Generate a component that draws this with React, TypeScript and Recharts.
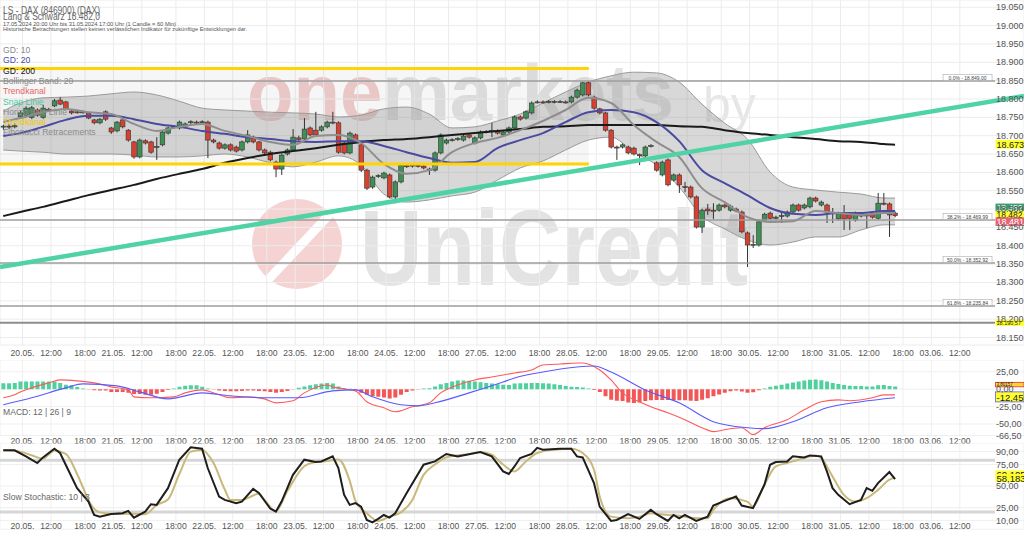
import React from 'react';
import {
  ComposedChart, Bar, Line, Area, XAxis, YAxis, CartesianGrid,
  ReferenceLine, ReferenceArea, Cell,
} from 'recharts';

const FONT = '"Liberation Sans", Arial, Helvetica, sans-serif';
const W = 1024;

// ---- time axis: hourly candles, 16 slots per trading day, index 0 = 20.05. first hour
const dayLabels = ['20.05.', '21.05.', '22.05.', '23.05.', '24.05.', '27.05.', '28.05.', '29.05.', '30.05.', '31.05.', '03.06.'];
const hourLabels = ['12:00', '18:00'];
const firstCandle = -3; // 17.05. 20:00
const X_MIN = -3.57;
const X_MAX = 176.7;

// ---- candles (LS DAX, 60 min)
const candleOpen = [18724, 18726, 18724, 18751, 18756, 18750, 18770, 18750, 18772, 18781, 18797, 18792, 18767, 18765, 18764, 18762, 18743, 18735, 18765, 18721, 18713, 18743, 18715, 18683, 18642, 18686, 18683, 18668, 18675, 18707, 18723, 18721, 18726, 18736, 18737, 18736, 18737, 18688, 18680, 18666, 18675, 18669, 18661, 18683, 18696, 18683, 18661, 18655, 18628, 18609, 18650, 18661, 18694, 18691, 18721, 18715, 18715, 18724, 18737, 18735, 18680, 18653, 18702, 18675, 18606, 18560, 18589, 18585, 18593, 18533, 18574, 18618, 18617, 18619, 18617, 18609, 18606, 18653, 18680, 18688, 18690, 18688, 18702, 18680, 18694, 18710, 18712, 18713, 18702, 18710, 18721, 18751, 18748, 18762, 18791, 18792, 18791, 18793, 18792, 18792, 18792, 18805, 18811, 18844, 18805, 18773, 18762, 18715, 18669, 18669, 18669, 18666, 18648, 18645, 18672, 18626, 18593, 18634, 18579, 18593, 18561, 18560, 18533, 18451, 18500, 18497, 18497, 18511, 18497, 18500, 18492, 18435, 18402, 18402, 18470, 18489, 18475, 18481, 18481, 18492, 18511, 18503, 18506, 18530, 18511, 18511, 18490, 18473, 18489, 18484, 18470, 18484, 18484, 18489, 18475, 18516, 18514, 18489];
const candleHigh = [18730, 18732, 18733, 18767, 18780, 18781, 18774, 18784, 18776, 18800, 18805, 18795, 18770, 18769, 18769, 18765, 18746, 18748, 18769, 18724, 18740, 18746, 18718, 18686, 18692, 18690, 18686, 18696, 18714, 18725, 18729, 18741, 18736, 18742, 18741, 18742, 18741, 18692, 18684, 18679, 18679, 18673, 18687, 18715, 18700, 18686, 18665, 18659, 18632, 18651, 18665, 18718, 18700, 18748, 18725, 18765, 18728, 18741, 18765, 18739, 18684, 18711, 18706, 18679, 18610, 18591, 18595, 18602, 18597, 18578, 18624, 18621, 18624, 18622, 18621, 18613, 18657, 18706, 18692, 18693, 18696, 18703, 18706, 18698, 18714, 18715, 18735, 18717, 18714, 18725, 18755, 18755, 18769, 18793, 18796, 18796, 18797, 18797, 18797, 18796, 18809, 18828, 18847, 18849, 18809, 18776, 18765, 18718, 18673, 18679, 18673, 18670, 18651, 18673, 18677, 18630, 18632, 18638, 18597, 18597, 18574, 18564, 18537, 18501, 18514, 18516, 18515, 18515, 18512, 18504, 18496, 18439, 18429, 18469, 18490, 18493, 18482, 18492, 18496, 18515, 18515, 18515, 18534, 18534, 18523, 18515, 18503, 18493, 18511, 18488, 18493, 18488, 18488, 18493, 18544, 18544, 18518, 18493];
const candleLow = [18716, 18718, 18720, 18746, 18752, 18745, 18752, 18746, 18765, 18778, 18783, 18770, 18758, 18760, 18760, 18745, 18731, 18731, 18740, 18705, 18709, 18720, 18684, 18637, 18638, 18676, 18651, 18634, 18671, 18703, 18719, 18717, 18722, 18732, 18732, 18733, 18639, 18679, 18662, 18662, 18657, 18654, 18657, 18679, 18679, 18657, 18649, 18630, 18587, 18593, 18646, 18657, 18686, 18687, 18698, 18698, 18711, 18720, 18731, 18651, 18649, 18649, 18684, 18601, 18552, 18555, 18585, 18581, 18529, 18516, 18570, 18612, 18613, 18613, 18608, 18593, 18602, 18649, 18676, 18684, 18686, 18684, 18692, 18676, 18690, 18706, 18696, 18703, 18698, 18706, 18717, 18741, 18744, 18758, 18788, 18787, 18788, 18788, 18789, 18787, 18788, 18801, 18807, 18807, 18771, 18758, 18711, 18665, 18634, 18665, 18649, 18646, 18620, 18641, 18668, 18602, 18589, 18562, 18575, 18544, 18546, 18529, 18447, 18435, 18484, 18473, 18493, 18502, 18493, 18491, 18434, 18342, 18394, 18398, 18466, 18471, 18471, 18462, 18477, 18488, 18493, 18499, 18502, 18518, 18507, 18462, 18462, 18469, 18443, 18443, 18466, 18477, 18448, 18474, 18471, 18510, 18424, 18478];
const candleClose = [18726, 18724, 18727, 18762, 18775, 18776, 18756, 18775, 18769, 18795, 18786, 18773, 18762, 18764, 18765, 18748, 18735, 18745, 18745, 18710, 18737, 18724, 18688, 18642, 18688, 18680, 18655, 18671, 18710, 18721, 18725, 18737, 18732, 18738, 18736, 18738, 18688, 18683, 18666, 18675, 18661, 18658, 18683, 18702, 18683, 18661, 18653, 18634, 18609, 18647, 18661, 18696, 18690, 18718, 18702, 18702, 18724, 18737, 18735, 18655, 18653, 18707, 18688, 18606, 18557, 18587, 18591, 18598, 18533, 18574, 18620, 18616, 18620, 18617, 18612, 18606, 18653, 18702, 18688, 18689, 18692, 18699, 18696, 18694, 18710, 18711, 18714, 18707, 18710, 18721, 18751, 18745, 18765, 18789, 18792, 18791, 18793, 18792, 18793, 18791, 18805, 18824, 18844, 18811, 18775, 18762, 18715, 18669, 18668, 18675, 18653, 18650, 18646, 18669, 18673, 18606, 18628, 18566, 18593, 18566, 18559, 18533, 18451, 18497, 18495, 18496, 18511, 18506, 18508, 18495, 18438, 18402, 18404, 18465, 18486, 18475, 18478, 18482, 18492, 18511, 18497, 18511, 18530, 18522, 18519, 18492, 18488, 18489, 18473, 18475, 18489, 18481, 18483, 18478, 18516, 18514, 18484, 18482];

// ---- moving averages / Bollinger (read every 4 candles)
const maK = [-3, 0, 4, 8, 12, 16, 20, 24, 28, 32, 36, 40, 44, 48, 52, 56, 60, 64, 68, 72, 76, 80, 84, 88, 92, 96, 100, 104, 108, 112, 116, 120, 124, 128, 132, 136, 140, 144, 148, 152, 154];
const bbUpper = [18767, 18789, 18803, 18805, 18808, 18814, 18819, 18811, 18794, 18775, 18770, 18767, 18764, 18762, 18759, 18751, 18756, 18773, 18778, 18759, 18721, 18724, 18740, 18759, 18789, 18819, 18846, 18863, 18873, 18871, 18846, 18786, 18734, 18691, 18601, 18560, 18552, 18546, 18541, 18530, 18530];
const bbLower = [18661, 18658, 18655, 18650, 18650, 18650, 18647, 18642, 18642, 18645, 18650, 18642, 18626, 18615, 18628, 18645, 18620, 18541, 18519, 18525, 18536, 18546, 18579, 18612, 18631, 18661, 18688, 18696, 18655, 18620, 18560, 18481, 18446, 18416, 18402, 18410, 18424, 18424, 18443, 18457, 18457];
const gd10 = [18737, 18748, 18764, 18773, 18764, 18759, 18732, 18713, 18724, 18732, 18713, 18699, 18683, 18675, 18699, 18702, 18680, 18623, 18596, 18606, 18655, 18680, 18694, 18715, 18740, 18770, 18803, 18789, 18729, 18683, 18642, 18557, 18519, 18478, 18465, 18467, 18495, 18489, 18484, 18489, 18489];
const gd20 = [18699, 18707, 18724, 18743, 18754, 18754, 18745, 18732, 18724, 18713, 18705, 18696, 18691, 18685, 18683, 18685, 18685, 18672, 18655, 18639, 18626, 18628, 18666, 18688, 18707, 18737, 18764, 18770, 18764, 18737, 18685, 18606, 18571, 18538, 18503, 18487, 18484, 18489, 18489, 18495, 18495];
const gd200 = [18481, 18492, 18506, 18522, 18538, 18552, 18566, 18582, 18596, 18609, 18626, 18639, 18650, 18658, 18666, 18675, 18683, 18688, 18691, 18696, 18702, 18707, 18713, 18718, 18724, 18726, 18729, 18729, 18729, 18729, 18726, 18724, 18715, 18707, 18702, 18696, 18691, 18685, 18683, 18677, 18675];

// ---- drawings
const channelHigh = 18883;
const channelLow = 18623;
const channelEnd = 100.1;
const snapLine = [{ k: X_MIN, p: 18342 }, { k: X_MAX, p: 18808 }];
const fibLevels = [18849.0, 18469.99, 18352.92, 18235.84];
const fibNames = ['0.0%', '38.2%', '50.0%', '61.8%'];
const hLineLevel = 18190.57;
const lineEnd = 171.6;

const priceTicks = [18150, 18200, 18250, 18300, 18350, 18400, 18450, 18500, 18550, 18600, 18650, 18700, 18750, 18800, 18850, 18900, 18950, 19000, 19050];

// ---- MACD 12 | 26 | 9
const macdHist = [8.6, 8.6, 9, 10.9, 10.9, 10.9, 10.9, 10.9, 10.9, 10.5, 9, 6.5, 5.5, 3, 1, -0.5, -1.5, -2, -2, -4, -4, -4, -5, -7, -7, -8, -8, -6.5, -4, -1, 1, 3.5, 5, 5.5, 5.5, 3.5, 1, -0.5, -2, -2.5, -3, -3, -2.5, -2, -2, -2.5, -3, -4, -5, -4, -2.5, -0.5, 2, 4, 5.5, 7, 8, 9, 8, 4, 1.5, 0.5, -1, -5, -8, -10, -11, -12, -13.5, -12, -8, -4, -2, -0.5, 1, 1.5, 4, 7, 9, 11, 12.5, 12.5, 12, 11, 10, 9, 8, 7, 6.5, 6, 8, 8.5, 8.6, 8.8, 9, 8.5, 8, 7, 6, 4.5, 3.5, 3, 2.5, 1, -1, -4, -10, -15, -16.5, -17, -19, -20, -19, -17, -16, -15.5, -15.5, -15.5, -15.5, -16, -16, -16.5, -17, -15, -13, -10, -7.5, -5, -3, -2, -3.5, -5, -4.5, -1.5, 1, 3.5, 5, 6.5, 8, 9.5, 11, 12.5, 13.5, 14, 13, 11, 9, 7.5, 6, 5, 4.5, 4.5, 4, 4, 5.5, 6, 4.5, 3.8];
const macdK = [-3, -1, 0, 2, 5, 7, 10, 13, 16, 19, 20, 23, 27, 29, 32, 35, 37, 40, 43, 45, 48, 50, 54, 55, 57, 59, 61, 64, 66, 69, 72, 74, 77, 80, 83, 87, 90, 92, 95, 98, 99, 102, 104, 106, 109, 111, 114, 117, 120, 122, 125, 127, 129, 131, 135, 138, 141, 144, 146, 150, 152, 154];
const macdV = [-12.4, -8.1, -3.9, 1.9, 9, 13.3, 11.9, 9, 3.3, -1, -11, -12.4, -11, -5.3, -1, -8.1, -12.4, -11, -13.9, -19.6, -16.7, -5.3, 6.1, 3.3, 0.4, -2.4, -18.1, -26.7, -32.4, -25.3, -19.6, -5.3, 6.1, 13.3, 17.6, 23.3, 27.6, 34.7, 36.1, 37.6, 37.6, 27.6, 13.3, -5.3, -18.1, -25.3, -33.9, -43.9, -55.3, -61, -56.7, -55.3, -65.3, -55.3, -43.9, -29.6, -18.1, -15.3, -16.7, -12.4, -8.1, -8.1];
const signalK = [-3, 2, 8, 11, 17, 21, 26, 32, 37, 43, 49, 55, 59, 62, 67, 70, 73, 79, 85, 87, 92, 98, 101, 104, 110, 116, 122, 128, 131, 136, 142, 148, 154];
const signalV = [-22.4, -12.4, 1.9, 7.6, 4.7, -3.9, -13.9, -5.3, -9.6, -12.4, -12.4, -2.4, -1, -11, -22.4, -23.9, -19.6, -5.3, 10.4, 16.1, 24.7, 31.9, 33.3, 24.7, -1, -19.6, -46.7, -55.3, -56.7, -46.7, -26.7, -18.1, -12.4];
const macdTicks = [-66.5, -50, -25, 0, 25];

// ---- Slow Stochastic 10 | 3
const stochK = [-3, -1, 1, 3, 4, 6, 7, 8, 10, 12, 13, 14, 16, 18, 19, 20, 22, 23, 24, 26, 28, 30, 32, 33, 35, 36, 38, 39, 41, 42, 43, 44, 45, 46, 48, 50, 52, 53, 55, 56, 57, 58, 59, 60, 61, 62, 63, 64, 65, 66, 67, 68, 71, 73, 75, 77, 81, 83, 85, 86, 87, 88, 90, 91, 92, 95, 97, 98, 99, 101, 102, 104, 105, 107, 109, 111, 112, 114, 115, 116, 117, 119, 121, 122, 124, 126, 127, 129, 131, 132, 133, 135, 136, 138, 139, 141, 142, 143, 144, 146, 148, 149, 150, 151, 153, 154];
const stochKV = [91.5, 91.5, 84.5, 76.8, 83.3, 93.4, 88.4, 74.8, 47.6, 32, 16.5, 14.6, 17.7, 18.5, 21.2, 13.4, 20.4, 29, 28.2, 47.6, 80.6, 95, 93.4, 71, 37.9, 34, 30.2, 32, 46.8, 42, 33, 24, 20.4, 32, 63.1, 80.6, 77.9, 78.6, 84.5, 71, 40, 28.2, 30.2, 26.2, 10.7, 8, 12, 16.5, 13.4, 18.5, 30, 41.8, 74.8, 78.6, 87.3, 84.5, 89.6, 84.5, 67, 64, 72.8, 82.6, 87.3, 94.3, 92.3, 93.4, 93.4, 84.5, 83.3, 53.5, 26.2, 9.6, 10.7, 17.4, 11.9, 22.4, 17.4, 9.6, 16.5, 12.7, 16.5, 9.6, 14.6, 27.4, 32.9, 37.9, 27.4, 24.4, 51.5, 74.8, 77.9, 78.6, 84.5, 83.3, 85.6, 84.5, 67, 47.6, 39.8, 29, 34, 47.6, 44.5, 53.5, 66.3, 58.2];
const stochD = [-3, 0, 2, 4, 6, 8, 10, 11, 12, 14, 17, 20, 22, 24, 26, 28, 30, 32, 34, 36, 37, 39, 42, 43, 45, 47, 50, 52, 54, 56, 58, 59, 61, 63, 65, 67, 69, 71, 73, 75, 79, 81, 83, 85, 87, 89, 91, 94, 97, 99, 101, 102, 104, 107, 109, 111, 114, 116, 118, 121, 122, 125, 128, 129, 131, 133, 135, 138, 140, 141, 143, 145, 147, 149, 151, 153, 154];
const stochDV = [91.5, 90, 85.7, 81.9, 91, 87.3, 64, 49, 33.7, 19.5, 17.7, 17.9, 17.4, 28, 34.5, 64, 90, 92, 77, 46, 34, 34, 41, 34, 21, 44, 73, 78, 79, 81, 56, 33, 18.5, 9.6, 14.6, 19.5, 33.7, 63, 75, 83.3, 87.3, 89.6, 86.5, 75, 67, 78.6, 88.4, 92.3, 93.4, 88.4, 69, 38, 14.6, 12.7, 14.6, 18.5, 16.5, 15.6, 13.4, 12.7, 22.4, 36, 32, 26.2, 51.5, 72.8, 76.8, 82.6, 85.6, 82.6, 61, 39.8, 32, 36, 45.6, 57.4, 60.1];
const stochTicks = [10, 25, 50, 75, 90];

// ---- tables for recharts
const candleRows = candleOpen.map((o, i) => ({
  k: firstCandle + i, o, h: candleHigh[i], l: candleLow[i], c: candleClose[i],
  range: [candleLow[i], candleHigh[i]],
}));
const maRows = maK.map((k, i) => ({
  k, band: [bbLower[i], bbUpper[i]], gd10: gd10[i], gd20: gd20[i], gd200: gd200[i],
}));
const histRows = macdHist.map((h, i) => ({ k: firstCandle + i, h }));
const macdRows = macdK.map((k, i) => ({ k, v: macdV[i] }));
const signalRows = signalK.map((k, i) => ({ k, v: signalV[i] }));
const stochKRows = stochK.map((k, i) => ({ k, v: stochKV[i] }));
const stochDRows = stochD.map((k, i) => ({ k, v: stochDV[i] }));

const tickList = dayLabels.flatMap((day, d) => {
  const base = d * 16;
  const arr = [{ k: base + 0.4, label: day }, { k: base + 5.4, label: hourLabels[0] }];
  if (d < dayLabels.length - 1) arr.push({ k: base + 11.4, label: hourLabels[1] });
  return arr;
});
const tickKs = tickList.map((t) => t.k);

const fmtDe = (v: number, dec = 2) => {
  const s = Math.abs(v).toFixed(dec);
  const [i, d] = s.split('.');
  const ii = i.replace(/\B(?=(\d{3})+(?!\d))/g, '.');
  return (v < 0 ? '-' : '') + ii + (d ? ',' + d : '');
};

const DateTick = ({ x, y, payload, dyc }: any) => {
  const t = tickList.find((tt) => Math.abs(tt.k - payload.value) < 0.01);
  return (
    <text x={x} y={y + dyc} textAnchor="middle" dominantBaseline="central" fontSize={8.6} fill="#555" fontFamily={FONT}>
      {t ? t.label : ''}
    </text>
  );
};

const ValueTick = ({ y, payload }: any) => (
  <text x={996} y={y} dominantBaseline="central" fontSize={9} fill="#555" fontFamily={FONT}>
    {fmtDe(payload.value)}
  </text>
);

const GREEN = '#3f8f57';
const RED = '#d8412f';

const Candle = (props: any) => {
  const { x, y, width, height, payload } = props;
  if (!payload || height == null) return null;
  const { o, h, l, c } = payload;
  const cx = x + width / 2;
  const span = h - l;
  const toPx = (v: number) => (span > 0 ? y + ((h - v) / span) * height : y);
  const top = toPx(Math.max(o, c));
  const bot = toPx(Math.min(o, c));
  return (
    <g>
      <line x1={cx} x2={cx} y1={y} y2={y + height} stroke="#333" strokeWidth={1} />
      <rect x={cx - 2.3} y={top} width={4.6} height={Math.max(bot - top, 1)} fill={c >= o ? GREEN : RED} stroke="#333" strokeWidth={0.6} />
    </g>
  );
};

type FlagItem = { text: string; fill: string; color: string; stroke?: string; dy: number; h: number; fs: number };
// price flags sit on the right edge, anchored to the value of a zero-length segment
const flagLabel = (items: FlagItem[]) => (p: any) => {
  const vb = p.viewBox || {};
  const right = W;
  const cy = vb.y ?? 0;
  return (
    <g>
      {items.map((it, i) => (
        <g key={i}>
          <rect x={right - 28.5} y={cy + it.dy - it.h / 2} width={28.5} height={it.h} fill={it.fill} stroke={it.stroke ?? 'none'} strokeWidth={0.8} />
          <text x={right - 27.5} y={cy + it.dy + 0.3} dominantBaseline="central" fontSize={it.fs} fill={it.color} fontFamily={FONT}>{it.text}</text>
        </g>
      ))}
    </g>
  );
};

const fibLabel = (text: string) => (p: any) => {
  const vb = p.viewBox || {};
  const right = (vb.x ?? 0) + (vb.width ?? 0) - 3;
  const cy = vb.y ?? 0;
  return (
    <g>
      <rect x={right - 49} y={cy - 6.5} width={49} height={6} fill="#fff" stroke="#999" strokeWidth={0.5} />
      <text x={right - 24.5} y={cy - 3.3} textAnchor="middle" dominantBaseline="central" fontSize={5} fill="#444" fontFamily={FONT}>{text}</text>
    </g>
  );
};

const flagAt = (key: string, v: number, items: FlagItem[]) => (
  <ReferenceLine key={key} segment={[{ x: X_MAX, y: v }, { x: X_MAX, y: v }]} stroke="transparent" strokeWidth={0} ifOverflow="visible" label={flagLabel(items)} />
);

const xAxisProps = {
  type: 'number' as const,
  dataKey: 'k',
  domain: [X_MIN, X_MAX],
  allowDataOverflow: true,
  ticks: tickKs,
  interval: 0 as const,
  tickLine: false,
  axisLine: false,
  tickSize: 0,
  tickMargin: 0,
};

const lineProps = { dot: false, activeDot: false, isAnimationActive: false, legendType: 'none' as const };

const legendItems = [
  { t: 'GD: 10', c: '#8a8a8a' },
  { t: 'GD: 20', c: '#4a4aa8' },
  { t: 'GD: 200', c: '#111' },
  { t: 'Bollinger Band: 20', c: '#8a8a8a' },
  { t: 'Trendkanal', c: '#e56565' },
  { t: 'Snap Linie', c: '#45c89a' },
  { t: 'Horizontale Linie', c: '#8a8a8a' },
  { t: 'Trendkanal', c: '#f0c800' },
  { t: 'Fibonacci Retracements', c: '#8a8a8a' },
];

export default function App() {
  return (
    <div style={{ position: 'relative', width: W, height: 533, overflow: 'hidden', background: '#fff', fontFamily: FONT }}>
      <style>{'body{margin:0}'}</style>

      {/* watermark */}
      <svg width={W} height={533} style={{ position: 'absolute', left: 0, top: 0 }}>
        <text x={247} y={120} fontSize={80} fontWeight="bold" fontFamily={FONT} textLength={427} lengthAdjust="spacingAndGlyphs">
          <tspan fill="#f3cfcf">one</tspan>
          <tspan fill="#e3e3e3">markets</tspan>
        </text>
        <text x={703} y={122} fontSize={50} fill="#e6e6e6" fontFamily={FONT}>by</text>
        <circle cx={297} cy={244} r={45} fill="#f5d3d3" />
        <path d="M266 282 L330 214" stroke="#fff" strokeWidth={9} />
        <text x={360} y={285} fontSize={108} fontWeight="bold" fill="#e3e3e3" fontFamily={FONT} textLength={388} lengthAdjust="spacingAndGlyphs">UniCredit</text>
      </svg>

      {/* price panel */}
      <div style={{ position: 'absolute', left: 0, top: 0 }}>
        <ComposedChart width={W} height={362} data={candleRows} margin={{ top: 0, right: 0, bottom: 0, left: 0 }}>
          <CartesianGrid stroke="#ececec" />
          <XAxis {...xAxisProps} height={17} tick={<DateTick dyc={8} />} />
          <YAxis type="number" orientation="right" mirror domain={[18129.6, 19069.7]} allowDataOverflow ticks={priceTicks} interval={0} tick={<ValueTick />} tickLine={false} axisLine={false} width={30} />
          <ReferenceArea x1={X_MIN} x2={channelEnd} y1={channelLow} y2={channelHigh} fill="#000" fillOpacity={0.035} stroke="none" ifOverflow="visible" />
          <Area data={maRows} dataKey="band" type="monotone" stroke="#9a9a9a" strokeWidth={1} fill="#8c8c8c" fillOpacity={0.34} dot={false} activeDot={false} isAnimationActive={false} />
          {fibLevels.map((v, i) => (
            <ReferenceLine key={'f' + i} segment={[{ x: X_MIN, y: v }, { x: lineEnd, y: v }]} stroke="#9c9c9c" strokeWidth={1.5} ifOverflow="visible" label={fibLabel(`${fibNames[i]} - ${fmtDe(v)}`)} />
          ))}
          <ReferenceLine segment={[{ x: X_MIN, y: hLineLevel }, { x: lineEnd, y: hLineLevel }]} stroke="#8c8c8c" strokeWidth={2} ifOverflow="visible" />
          <Line data={maRows} dataKey="gd200" type="monotone" stroke="#1a1a1a" strokeWidth={2} {...lineProps} />
          <Line data={maRows} dataKey="gd20" type="monotone" stroke="#4a4aa0" strokeWidth={2} {...lineProps} />
          <Line data={maRows} dataKey="gd10" type="monotone" stroke="#8e8e8e" strokeWidth={2} {...lineProps} />
          <Bar dataKey="range" barSize={4} shape={<Candle />} isAnimationActive={false} />
          <ReferenceLine segment={[{ x: X_MIN, y: channelHigh }, { x: channelEnd, y: channelHigh }]} stroke="#ffd400" strokeWidth={3} ifOverflow="visible" />
          <ReferenceLine segment={[{ x: X_MIN, y: channelLow }, { x: channelEnd, y: channelLow }]} stroke="#ffd400" strokeWidth={3} ifOverflow="visible" />
          <ReferenceLine segment={[{ x: snapLine[0].k, y: snapLine[0].p }, { x: snapLine[1].k, y: snapLine[1].p }]} stroke="#4fd3a4" strokeWidth={4.5} ifOverflow="visible" />
          {flagAt('p1', 18673, [{ text: '18.673', fill: '#ffff2e', color: '#222', dy: -1.3, h: 8.6, fs: 9 }])}
          {flagAt('p2', 18482, [
            { text: '18.482', fill: '#3e9a70', color: '#fff', dy: -8.4, h: 7.4, fs: 8.5 },
            { text: '18.482', fill: '#ffff2e', color: '#222', dy: -1.4, h: 7, fs: 8.5 },
            { text: '18.481', fill: '#e36472', color: '#fff', dy: 6, h: 8.6, fs: 9 },
          ])}
          {flagAt('p3', hLineLevel, [{ text: fmtDe(hLineLevel), fill: '#ffff2e', color: '#222', dy: 0, h: 6.5, fs: 5.5 }])}
        </ComposedChart>
      </div>

      {/* MACD panel */}
      <div style={{ position: 'absolute', left: 0, top: 360 }}>
        <ComposedChart width={W} height={87} data={histRows} margin={{ top: 0, right: 0, bottom: 0, left: 0 }}>
          <CartesianGrid stroke="#efefef" />
          <XAxis {...xAxisProps} height={11.5} tick={<DateTick dyc={5.5} />} />
          <YAxis type="number" orientation="right" mirror domain={[-66.5, 41.9]} allowDataOverflow ticks={macdTicks} interval={0} tick={<ValueTick />} tickLine={false} axisLine={false} width={30} />
          <Bar dataKey="h" barSize={4} isAnimationActive={false}>
            {histRows.map((r, i) => (
              <Cell key={i} fill={r.h >= 0 ? '#4fd09f' : '#f25757'} />
            ))}
          </Bar>
          <Line data={macdRows} dataKey="v" type="monotone" stroke="#ff5a5a" strokeWidth={1.1} {...lineProps} />
          <Line data={signalRows} dataKey="v" type="monotone" stroke="#5a5aff" strokeWidth={1.1} {...lineProps} />
          {flagAt('m1', 0, [
            { text: '3,80157', fill: '#ffd23c', color: '#222', stroke: '#e23030', dy: -4.6, h: 4.5, fs: 4.5 },
            { text: '-12,459', fill: '#ffff2e', color: '#222', stroke: '#5a5aff', dy: 7.7, h: 10, fs: 9.5 },
          ])}
        </ComposedChart>
      </div>

      {/* stochastic panel */}
      <div style={{ position: 'absolute', left: 0, top: 443 }}>
        <ComposedChart width={W} height={90} data={stochKRows} margin={{ top: 0, right: 0, bottom: 0, left: 0 }}>
          <CartesianGrid stroke="#efefef" />
          <XAxis {...xAxisProps} height={3.8} tick={<DateTick dyc={-3} />} />
          <YAxis type="number" orientation="right" mirror domain={[0, 100]} allowDataOverflow ticks={stochTicks} interval={0} tick={<ValueTick />} tickLine={false} axisLine={false} width={30} />
          <ReferenceLine segment={[{ x: X_MIN, y: 80 }, { x: lineEnd, y: 80 }]} stroke="#d6d6d6" strokeWidth={3} ifOverflow="visible" />
          <ReferenceLine segment={[{ x: X_MIN, y: 20 }, { x: lineEnd, y: 20 }]} stroke="#d6d6d6" strokeWidth={3} ifOverflow="visible" />
          <Line data={stochDRows} dataKey="v" type="monotone" stroke="#c9b878" strokeWidth={2} {...lineProps} />
          <Line data={stochKRows} dataKey="v" type="linear" stroke="#1e1e1e" strokeWidth={2} {...lineProps} />
          {flagAt('s1', 58.183, [
            { text: '60,105', fill: '#ffff2e', color: '#222', dy: -4.6, h: 8, fs: 9.5 },
            { text: '58,183', fill: '#ffff2e', color: '#222', dy: -1, h: 8, fs: 9.5 },
          ])}
        </ComposedChart>
      </div>

      {/* header and legends */}
      <svg width={W} height={533} style={{ position: 'absolute', left: 0, top: 0, pointerEvents: 'none' }}>
        <g fontFamily={FONT}>
          <text x={3} y={13.5} fontSize={10} fill="#666" textLength={97} lengthAdjust="spacingAndGlyphs">LS - DAX (846900) (DAX)</text>
          <text x={3} y={19.8} fontSize={10} fill="#666" textLength={97} lengthAdjust="spacingAndGlyphs">Lang &amp; Schwarz 18.482,0</text>
          <text x={3} y={25.6} fontSize={5.6} fill="#555" textLength={173} lengthAdjust="spacingAndGlyphs">17.05.2024 20:00 Uhr bis 31.05.2024 17:00 Uhr (1 Candle = 60 Min)</text>
          <text x={3} y={30.8} fontSize={5.6} fill="#555" textLength={244} lengthAdjust="spacingAndGlyphs">Historische Betrachtungen stellen keinen verlässlichen Indikator für zukünftige Entwicklungen dar.</text>
          {legendItems.map((it, i) => (
            <text key={i} x={3} y={53 + i * 10.3} fontSize={8.6} fill={it.c}>{it.t}</text>
          ))}
          <text x={3} y={414.5} fontSize={8.6} fill="#666">MACD: 12 | 26 | 9</text>
          <text x={3} y={500} fontSize={8.6} fill="#666">Slow Stochastic: 10 | 3</text>
        </g>
      </svg>
    </div>
  );
}
